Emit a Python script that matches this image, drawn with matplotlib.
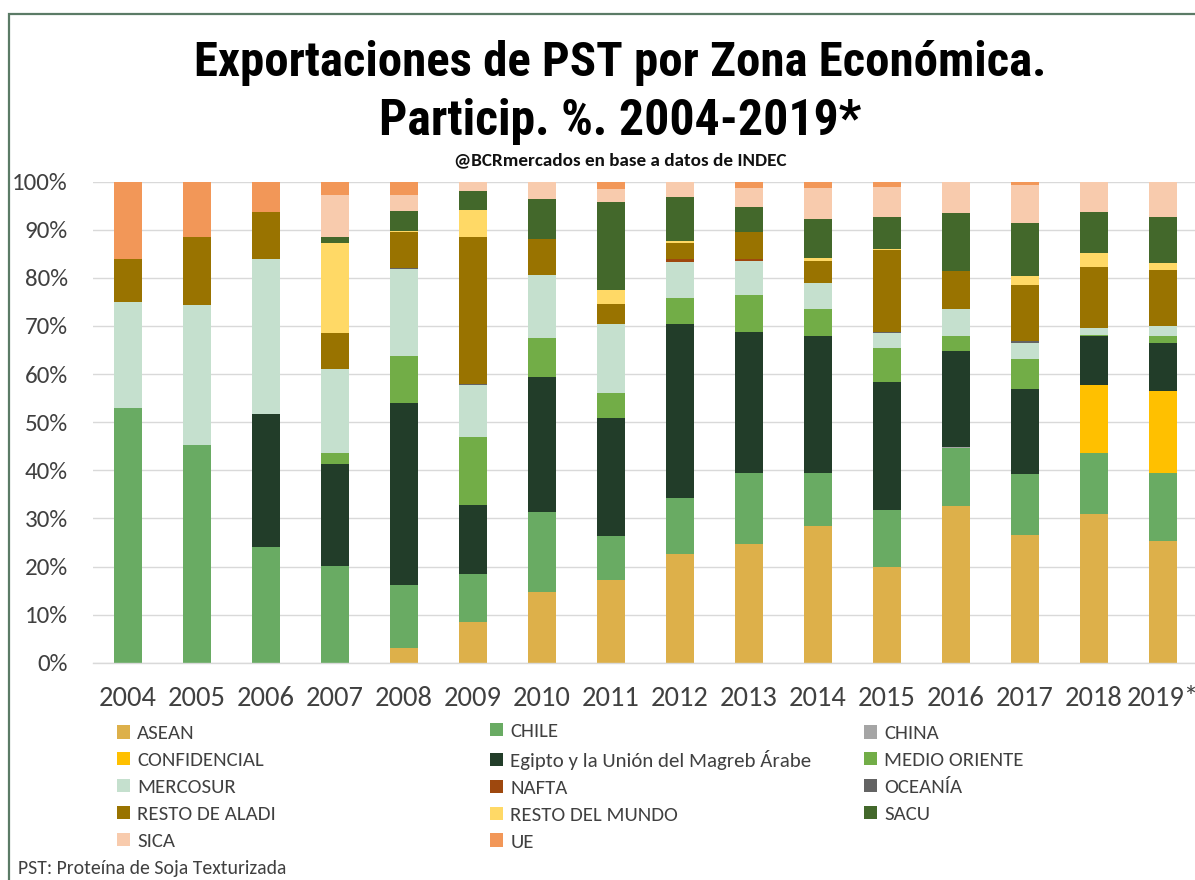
import matplotlib
matplotlib.use('Agg')
import matplotlib.pyplot as plt
import numpy as np
from matplotlib.patches import Rectangle

years = ['2004', '2005', '2006', '2007', '2008', '2009', '2010', '2011',
         '2012', '2013', '2014', '2015', '2016', '2017', '2018', '2019*']

names = ['ASEAN', 'CHILE', 'CHINA', 'CONFIDENCIAL',
         'Egipto y la Unión del Magreb Árabe', 'MEDIO ORIENTE', 'MERCOSUR',
         'NAFTA', 'OCEANÍA', 'RESTO DE ALADI', 'RESTO DEL MUNDO', 'SACU',
         'SICA', 'UE']

asean        = [0, 0, 0, 0, 3.0, 8.5, 14.8, 17.2, 22.7, 24.6, 28.4, 20.0, 32.6, 26.5, 31.0, 25.2]
chile        = [52.9, 45.2, 24.1, 20.2, 13.1, 9.9, 16.6, 9.2, 11.5, 14.8, 11.0, 11.7, 12.0, 12.7, 12.7, 14.2]
china        = [0, 0, 0, 0, 0, 0, 0, 0, 0, 0, 0, 0, 0.2, 0, 0, 0]
confidencial = [0, 0, 0, 0, 0, 0, 0, 0, 0, 0, 0, 0, 0, 0, 14.0, 17.1]
egipto       = [0, 0, 27.7, 21.1, 37.8, 14.4, 27.9, 24.5, 36.3, 29.4, 28.5, 26.6, 20.1, 17.7, 10.3, 9.9]
medio_or     = [0, 0, 0, 2.2, 9.9, 14.2, 8.3, 5.1, 5.4, 7.6, 5.6, 7.2, 3.1, 6.3, 0.2, 1.6]
mercosur     = [22.1, 29.1, 32.1, 17.5, 18.1, 10.7, 12.9, 14.5, 7.5, 7.2, 5.4, 3.1, 5.5, 3.2, 1.3, 2.1]
nafta        = [0, 0, 0, 0, 0, 0, 0, 0, 0.6, 0.3, 0, 0, 0, 0, 0, 0]
oceania      = [0, 0, 0, 0, 0.2, 0.2, 0, 0, 0, 0, 0, 0.2, 0, 0.5, 0, 0]
resto_aladi  = [8.9, 14.1, 9.9, 7.5, 7.4, 30.5, 7.5, 4.0, 3.3, 5.7, 4.7, 17.0, 7.9, 11.6, 12.7, 11.5]
resto_mundo  = [0, 0, 0, 18.8, 0.2, 5.8, 0, 3.0, 0.3, 0, 0.6, 0.2, 0, 1.9, 2.9, 1.6]
sacu         = [0, 0, 0, 1.3, 4.2, 3.9, 8.3, 18.3, 9.3, 5.2, 8.0, 6.6, 12.0, 11.1, 8.7, 9.4]
sica         = [0, 0, 0, 8.6, 3.3, 1.9, 3.7, 2.7, 3.1, 3.8, 6.4, 6.4, 6.6, 7.8, 6.2, 7.4]
ue           = [16.1, 11.6, 6.2, 2.8, 2.8, 0, 0, 1.5, 0, 1.4, 1.4, 1.0, 0, 0.7, 0, 0]

series = [asean, chile, china, confidencial, egipto, medio_or, mercosur,
          nafta, oceania, resto_aladi, resto_mundo, sacu, sica, ue]

colors = ['#DDB04A', '#69AB63', '#A5A5A5', '#FFC000', '#223D29', '#72AD47',
          '#C5E0CE', '#9E480E', '#636363', '#997300', '#FFD966', '#43682B',
          '#F8CBAD', '#F29758']

W, H = 1195, 880
def fx(px): return px / W
def fy(py): return 1 - py / H

body = ['Carlito', 'Lato', 'DejaVu Sans']
tfam = ['Roboto Condensed', 'Asap Condensed', 'Archivo Narrow', 'DejaVu Sans']

fig = plt.figure(figsize=(W / 100, H / 100), dpi=100)
fig.patch.set_facecolor('white')

ax = fig.add_axes([fx(93.5), fy(662.7), fx(1197.5) - fx(93.5), fy(181.7) - fy(662.7)])
x = np.arange(len(years))
bottom = np.zeros(len(years))
handles = []
for name, vals, col in zip(names, series, colors):
    vals = np.array(vals, dtype=float)
    b = ax.bar(x, vals, 0.4, bottom=bottom, color=col, label=name, linewidth=0)
    handles.append(b)
    bottom += vals

ax.set_xlim(-0.5, 15.5)
ax.set_ylim(0, 100)
ax.set_yticks(range(0, 101, 10))
ax.set_yticklabels([f'{v}%' for v in range(0, 101, 10)], family=body,
                   fontsize=18, color='#404040')
ax.set_xticks(x)
ax.set_xticklabels(years, family=body, fontsize=20.5, color='#404040')
ax.tick_params(axis='y', length=0, pad=18.4)
ax.tick_params(axis='x', length=0, pad=17)
ax.yaxis.grid(True, color='#D9D9D9', lw=1)
ax.set_axisbelow(True)
for s in ['top', 'right', 'left']:
    ax.spines[s].set_visible(False)
ax.spines['bottom'].set_color('#D9D9D9')
ax.spines['bottom'].set_linewidth(1)

# frame
fig.add_artist(Rectangle((fx(9), -0.1), 1.2, fy(14) + 0.1, transform=fig.transFigure,
                         fill=False, edgecolor='#5B7B66', lw=1.6))

fig.text(fx(620), fy(76), 'Exportaciones de PST por Zona Económica.', ha='center',
         va='baseline', family=tfam, weight='bold', fontsize=35.2, color='black')
fig.text(fx(620), fy(135), 'Particip. %. 2004-2019*', ha='center',
         va='baseline', family=tfam, weight='bold', fontsize=35.8, color='black')
fig.text(fx(620), fy(165), '@BCRmercados en base a datos de INDEC', ha='center',
         va='baseline', family=body, weight='bold', fontsize=13.8, color='#111111')

# legend in three columns, filled row-wise
col_x = [117, 490, 864]
col_y = [725, 723, 725]
for c in range(3):
    hs = handles[c::3]
    ls = names[c::3]
    fig.legend(hs, ls, loc='upper left', bbox_to_anchor=(fx(col_x[c]), fy(col_y[c])),
               frameon=False, borderpad=0, borderaxespad=0, handlelength=0.62,
               handleheight=0.62, handletextpad=0.35, labelspacing=0.47,
               prop={'family': body, 'size': 15}, labelcolor='#404040')

fig.text(fx(18), fy(874), 'PST: Proteína de Soja Texturizada', ha='left', va='baseline',
         family=body, fontsize=14.2, color='#404040')

fig.savefig('out.png', dpi=100, facecolor='white')
